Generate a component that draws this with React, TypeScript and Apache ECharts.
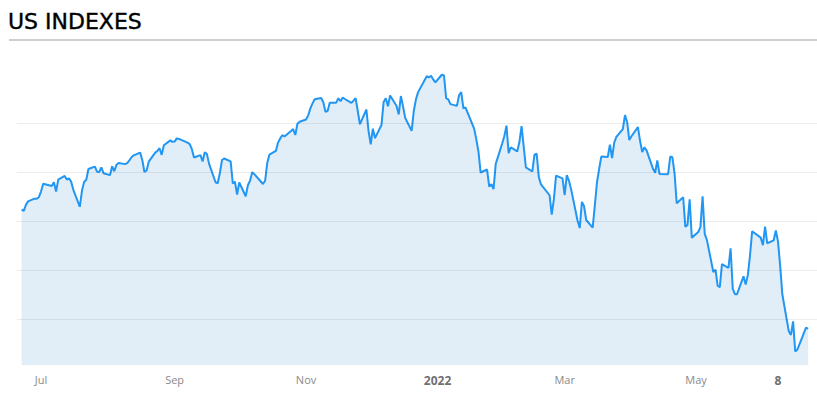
import { useEffect, useRef } from 'react';
import * as echarts from 'echarts';

const dates: string[] = [
  '2021-06-22','2021-06-23','2021-06-24','2021-06-25','2021-06-28','2021-06-29','2021-06-30',
  '2021-07-01','2021-07-02','2021-07-06','2021-07-07','2021-07-08','2021-07-09','2021-07-12','2021-07-13','2021-07-14','2021-07-15','2021-07-16','2021-07-19','2021-07-20','2021-07-21','2021-07-22','2021-07-23','2021-07-26','2021-07-27','2021-07-28','2021-07-29','2021-07-30',
  '2021-08-02','2021-08-03','2021-08-04','2021-08-05','2021-08-06','2021-08-09','2021-08-10','2021-08-11','2021-08-12','2021-08-13','2021-08-16','2021-08-17','2021-08-18','2021-08-19','2021-08-20','2021-08-23','2021-08-24','2021-08-25','2021-08-26','2021-08-27','2021-08-30','2021-08-31',
  '2021-09-01','2021-09-02','2021-09-03','2021-09-07','2021-09-08','2021-09-09','2021-09-10','2021-09-13','2021-09-14','2021-09-15','2021-09-16','2021-09-17','2021-09-20','2021-09-21','2021-09-22','2021-09-23','2021-09-24','2021-09-27','2021-09-28','2021-09-29','2021-09-30',
  '2021-10-01','2021-10-04','2021-10-05','2021-10-06','2021-10-07','2021-10-08','2021-10-11','2021-10-12','2021-10-13','2021-10-14','2021-10-15','2021-10-18','2021-10-19','2021-10-20','2021-10-21','2021-10-22','2021-10-25','2021-10-26','2021-10-27','2021-10-28','2021-10-29',
  '2021-11-01','2021-11-02','2021-11-03','2021-11-04','2021-11-05','2021-11-08','2021-11-09','2021-11-10','2021-11-11','2021-11-12','2021-11-15','2021-11-16','2021-11-17','2021-11-18','2021-11-19','2021-11-22','2021-11-23','2021-11-24','2021-11-26','2021-11-29','2021-11-30',
  '2021-12-01','2021-12-02','2021-12-03','2021-12-06','2021-12-07','2021-12-08','2021-12-09','2021-12-10','2021-12-13','2021-12-14','2021-12-15','2021-12-16','2021-12-17','2021-12-20','2021-12-21','2021-12-22','2021-12-23','2021-12-27','2021-12-28','2021-12-29','2021-12-30','2021-12-31',
  '2022-01-03','2022-01-04','2022-01-05','2022-01-06','2022-01-07','2022-01-10','2022-01-11','2022-01-12','2022-01-13','2022-01-14','2022-01-18','2022-01-19','2022-01-20','2022-01-21','2022-01-24','2022-01-25','2022-01-26','2022-01-27','2022-01-28','2022-01-31',
  '2022-02-01','2022-02-02','2022-02-03','2022-02-04','2022-02-07','2022-02-08','2022-02-09','2022-02-10','2022-02-11','2022-02-14','2022-02-15','2022-02-16','2022-02-17','2022-02-18','2022-02-22','2022-02-23','2022-02-24','2022-02-25','2022-02-28',
  '2022-03-01','2022-03-02','2022-03-03','2022-03-04','2022-03-07','2022-03-08','2022-03-09','2022-03-10','2022-03-11','2022-03-14','2022-03-15','2022-03-16','2022-03-17','2022-03-18','2022-03-21','2022-03-22','2022-03-23','2022-03-24','2022-03-25','2022-03-28','2022-03-29','2022-03-30','2022-03-31',
  '2022-04-01','2022-04-04','2022-04-05','2022-04-06','2022-04-07','2022-04-08','2022-04-11','2022-04-12','2022-04-13','2022-04-14','2022-04-18','2022-04-19','2022-04-20','2022-04-21','2022-04-22','2022-04-25','2022-04-26','2022-04-27','2022-04-28','2022-04-29',
  '2022-05-02','2022-05-03','2022-05-04','2022-05-05','2022-05-06','2022-05-09','2022-05-10','2022-05-11','2022-05-12','2022-05-13','2022-05-16','2022-05-17','2022-05-18','2022-05-19','2022-05-20','2022-05-23','2022-05-24','2022-05-25','2022-05-26','2022-05-27','2022-05-31',
  '2022-06-01','2022-06-02','2022-06-03','2022-06-06','2022-06-07','2022-06-08','2022-06-09','2022-06-10','2022-06-13','2022-06-14','2022-06-15','2022-06-16','2022-06-17','2022-06-21','2022-06-22'
];

const values: number[] = [
  4246,4241,4266,4280,4291,4291,4297,
  4320,4352,4343,4358,4320,4369,4384,4369,4374,4360,4327,4258,4323,4359,4368,4412,4422,4401,4400,4419,4395,
  4387,4423,4403,4429,4437,4432,4436,4447,4460,4468,4479,4449,4400,4406,4442,4479,4486,4497,4470,4509,4529,4523,
  4524,4537,4535,4520,4514,4493,4459,4469,4443,4481,4473,4433,4358,4354,4396,4449,4455,4443,4353,4360,4308,
  4357,4301,4346,4364,4399,4391,4361,4351,4364,4438,4471,4486,4520,4537,4550,4545,4567,4575,4551,4597,4605,
  4614,4631,4660,4680,4697,4702,4685,4646,4649,4683,4683,4701,4689,4704,4698,4682,4691,4701,4595,4655,4567,
  4513,4577,4538,4592,4686,4701,4668,4712,4669,4635,4710,4668,4621,4568,4650,4697,4726,4791,4786,4793,4778,4766,
  4797,4794,4701,4696,4677,4670,4713,4726,4660,4663,4577,4533,4483,4398,4410,4340,4350,4330,4432,4516,
  4546,4589,4477,4501,4484,4522,4587,4504,4419,4402,4471,4475,4380,4349,4305,4226,4289,4385,4374,
  4306,4387,4364,4329,4201,4171,4278,4260,4204,4173,4263,4358,4412,4463,4461,4512,4457,4520,4543,4575,4632,4603,4530,
  4546,4583,4526,4481,4501,4488,4413,4397,4447,4392,4391,4463,4460,4394,4272,4297,4176,4184,4288,4132,
  4155,4175,4301,4147,4123,3991,4001,3935,3930,4024,4008,4088,3924,3901,3901,3974,3941,3979,4058,4158,4132,
  4101,4177,4109,4121,4161,4116,4018,3901,3750,3735,3790,3667,3675,3765,3760
];

const tickDates: string[] = ['2021-07-01','2021-09-01','2021-11-01','2022-01-01','2022-03-01','2022-05-01','2022-06-08'];
const tickLabels: string[] = ['Jul','Sep','Nov','2022','Mar','May','8'];
const boldLabels: string[] = ['2022','8'];
const gridValues: number[] = [3800, 4000, 4200, 4400, 4600];
const titleText = 'US INDEXES';

const toTs = (s: string) => Date.parse(s + 'T00:00:00Z');

export default function App() {
  const ref = useRef<HTMLDivElement>(null);
  useEffect(() => {
    document.body.style.margin = '0';
    const chart = echarts.init(ref.current!, null, { renderer: 'svg' });
    const DAY = 86400000;
    const jul1 = toTs('2021-07-01');
    const tickTs = tickDates.map(toTs);
    const data = dates.map((d, i) => [toTs(d), values[i]]);
    chart.setOption({
      animation: false,
      title: {
        text: titleText,
        left: 8,
        top: 10,
        padding: 0,
        textStyle: { fontFamily: 'DejaVu Sans', fontSize: 22, fontWeight: 'normal', color: '#000', textBorderColor: '#000', textBorderWidth: 0.4 },
      },
      graphic: [
        { type: 'line', shape: { x1: 9, y1: 40, x2: 817, y2: 40 }, style: { stroke: '#cfcfcf', lineWidth: 2 } },
      ],
      grid: { left: 17, right: 0, top: 74, bottom: 31 },
      xAxis: {
        type: 'value',
        min: jul1 - 11.14 * DAY,
        max: jul1 + 360.1 * DAY,
        axisLine: { show: false },
        axisTick: { show: false },
        splitLine: { show: false },
        axisLabel: {
          customValues: tickTs,
          margin: 9,
          hideOverlap: false,
          showMinLabel: true,
          showMaxLabel: true,
          formatter: (val: number) => {
            const i = tickTs.findIndex((t) => Math.abs(t - val) < DAY / 2);
            if (i < 0) return '';
            const lab = tickLabels[i];
            return boldLabels.includes(lab) ? '{b|' + lab + '}' : '{m|' + lab + '}';
          },
          rich: {
            m: { fontFamily: 'Open Sans', fontSize: 11, color: '#8a8a8a' },
            b: { fontFamily: 'Open Sans', fontSize: 12, fontWeight: 'bold', color: '#707070' },
          },
        },
      },
      yAxis: {
        type: 'value',
        min: 3612,
        max: 4800,
        show: false,
        splitLine: { show: false },
      },
      series: [
        {
          type: 'line',
          data,
          symbol: 'none',
          showSymbol: false,
          lineStyle: { color: '#2196f3', width: 2 },
          areaStyle: { color: '#e1eef8', opacity: 1 },
          emphasis: { disabled: true },
          markLine: {
            silent: true,
            symbol: 'none',
            label: { show: false },
            lineStyle: { color: 'rgba(0,0,0,0.07)', type: 'solid', width: 1 },
            emphasis: { disabled: true },
            data: gridValues.map((v) => ({ yAxis: v })),
          },
        },
      ],
    });
    return () => chart.dispose();
  }, []);
  return <div ref={ref} style={{ width: 817, height: 396 }} />;
}
